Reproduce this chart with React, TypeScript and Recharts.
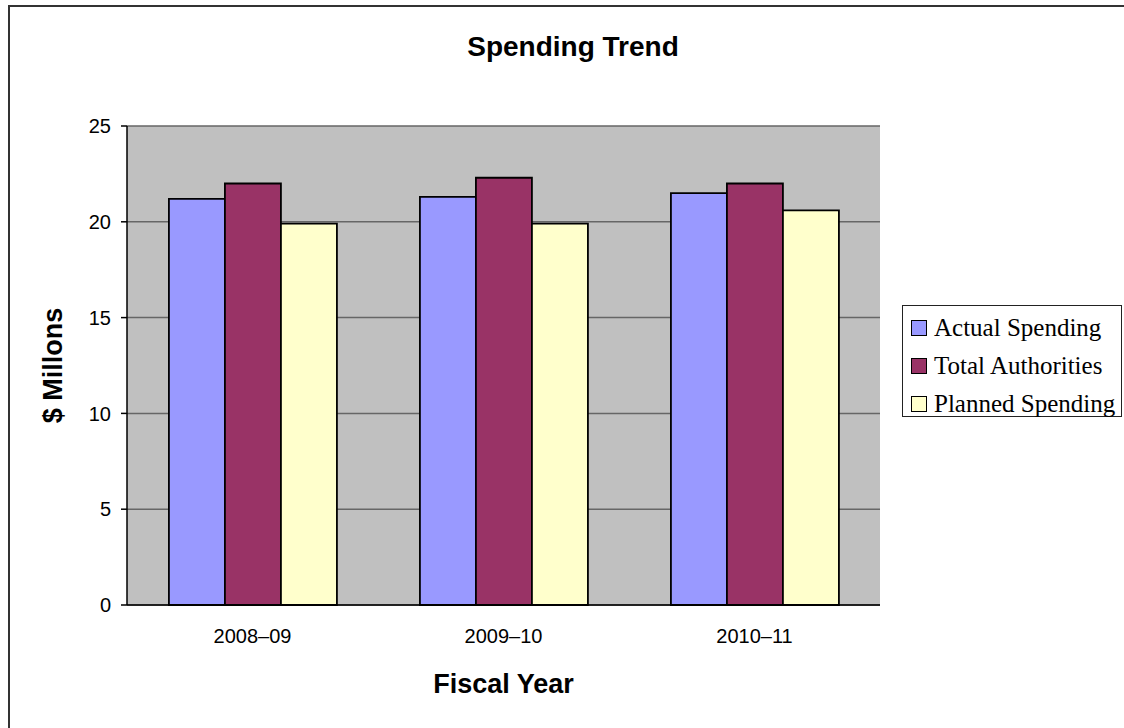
import React from "react";
import { BarChart, Bar, XAxis, YAxis, CartesianGrid, Label } from "recharts";

const categories = ["2008–09", "2009–10", "2010–11"];
const actualSpending = [21.2, 21.3, 21.5];
const totalAuthorities = [22.0, 22.3, 22.0];
const plannedSpending = [19.9, 19.9, 20.6];
const yTicks = [0, 5, 10, 15, 20, 25];
const boundaryTicks = [0, 1, 2, 3];

const seriesNames = ["Actual Spending", "Total Authorities", "Planned Spending"];
const seriesKeys = ["actual", "total", "planned"];
const seriesColors = ["#9999FF", "#993366", "#FFFFCC"];

const data = categories.map((c, i) => ({
  year: c,
  actual: actualSpending[i],
  total: totalAuthorities[i],
  planned: plannedSpending[i],
}));

const SANS = "'Liberation Sans', Arial, sans-serif";
const SERIF = "'Liberation Serif', 'Times New Roman', serif";

const YLabel = (props: any) => {
  const vb = props.viewBox || {};
  const x = vb.x + 53;
  const y = vb.y + vb.height / 2;
  return (
    <text
      x={x}
      y={y}
      transform={`rotate(-90, ${x}, ${y})`}
      textAnchor="middle"
      dominantBaseline="central"
      fontFamily={SANS}
      fontWeight="bold"
      fontSize={27}
      fill="#000"
    >
      $ Millons
    </text>
  );
};

export default function App() {
  return (
    <div style={{ position: "absolute", left: 0, top: 0, width: 1124, height: 728, background: "#fff", overflow: "hidden" }}>
      <div
        style={{
          position: "absolute",
          left: 8,
          top: 5,
          width: 1116,
          height: 730,
          borderTop: "2px solid #333",
          borderLeft: "2px solid #333",
          boxSizing: "border-box",
        }}
      />
      <div
        style={{
          position: "absolute",
          left: 573,
          top: 33,
          transform: "translateX(-50%)",
          fontFamily: SANS,
          fontWeight: "bold",
          fontSize: 28,
          lineHeight: "28px",
          whiteSpace: "nowrap",
          color: "#000",
        }}
      >
        Spending Trend
      </div>
      <div style={{ position: "absolute", left: 0, top: 0 }}>
        <BarChart
          width={1124}
          height={728}
          data={data}
          margin={{ top: 126, right: 244, bottom: 0, left: 0 }}
          barCategoryGap="16.7%"
          barGap={0}
        >
          <CartesianGrid
            fill="#C0C0C0"
            stroke="#666666"
            strokeWidth={1.5}
            vertical={false}
            yAxisId="left"
          />
          <XAxis
            xAxisId="bounds"
            type="number"
            domain={[0, 3]}
            ticks={boundaryTicks}
            height={0}
            axisLine={false}
            tickLine={{ stroke: "#000", strokeWidth: 1.5 }}
            tickSize={7}
            tick={() => <g />}
            interval={0}
          />
          <XAxis
            xAxisId="cat"
            dataKey="year"
            height={123}
            axisLine={{ stroke: "#000", strokeWidth: 1.5 }}
            tickLine={false}
            tickSize={0}
            tickMargin={24}
            tick={{ fontFamily: SANS, fontSize: 20, fill: "#000" }}
            interval={0}
          >
            <Label
              value="Fiscal Year"
              position="insideBottom"
              offset={35}
              style={{ fontFamily: SANS, fontWeight: "bold", fontSize: 27, fill: "#000" }}
            />
          </XAxis>
          <YAxis
            yAxisId="left"
            width={127}
            domain={[0, 25]}
            ticks={yTicks}
            interval={0}
            axisLine={{ stroke: "#000", strokeWidth: 1.5 }}
            tickLine={{ stroke: "#000", strokeWidth: 1.5 }}
            tickSize={6}
            tickMargin={10}
            tick={{ fontFamily: SANS, fontSize: 20, fill: "#000" }}
          >
            <Label content={<YLabel />} />
          </YAxis>
          <YAxis
            yAxisId="right"
            orientation="right"
            width={0}
            domain={[0, 25]}
            ticks={yTicks}
            tick={false}
            tickLine={false}
            axisLine={{ stroke: "#808080", strokeWidth: 2 }}
          />
          {seriesKeys.map((k, i) => (
            <Bar
              key={k}
              dataKey={k}
              name={seriesNames[i]}
              xAxisId="cat"
              yAxisId="left"
              fill={seriesColors[i]}
              stroke="#000"
              strokeWidth={1.8}
              isAnimationActive={false}
            />
          ))}
        </BarChart>
      </div>
      <div
        style={{
          position: "absolute",
          left: 902,
          top: 305,
          width: 220,
          height: 112,
          border: "1.5px solid #222",
          boxSizing: "border-box",
          background: "#fff",
          paddingTop: 3,
        }}
      >
        {seriesNames.map((n, i) => (
          <div
            key={n}
            style={{
              height: 38,
              lineHeight: "38px",
              fontFamily: SERIF,
              fontSize: 25,
              color: "#000",
              whiteSpace: "nowrap",
              paddingLeft: 8,
            }}
          >
            <span
              style={{
                display: "inline-block",
                width: 14,
                height: 14,
                background: seriesColors[i],
                border: "1.5px solid #000",
                marginRight: 7,
                verticalAlign: "baseline",
              }}
            />
            {n}
          </div>
        ))}
      </div>
    </div>
  );
}
